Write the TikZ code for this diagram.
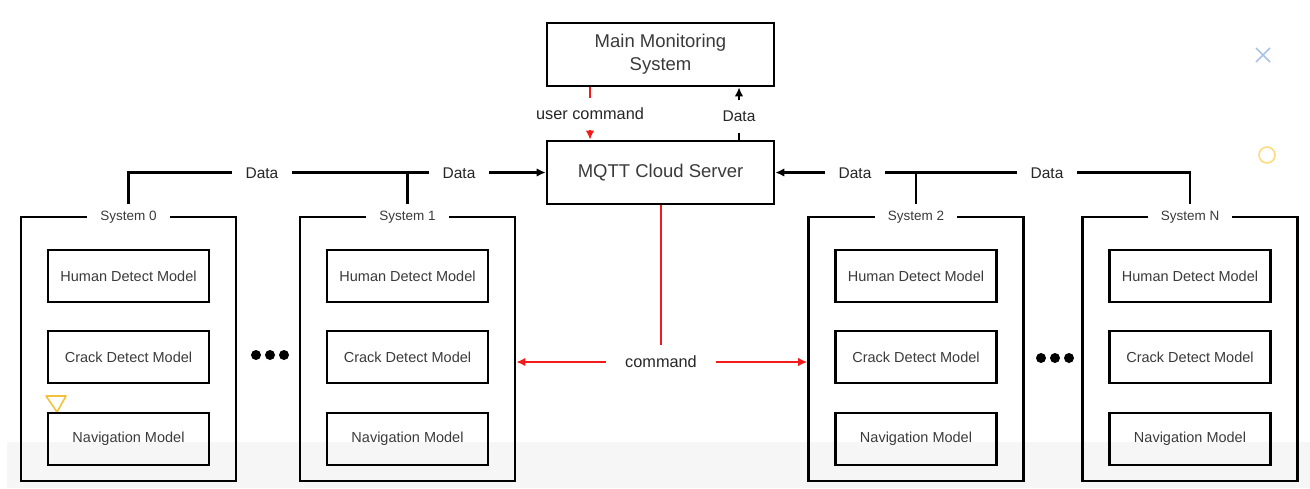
\documentclass[tikz,border=0pt]{standalone}
\usepackage{fontspec}
\setmainfont{Liberation Sans}
\usepackage{tikz}
\usetikzlibrary{arrows.meta}

\definecolor{txtgray}{HTML}{3A3A3A}
\definecolor{bandgray}{HTML}{F6F6F6}
\definecolor{decoblue}{HTML}{A9C2EA}
\definecolor{decoyellow}{HTML}{FCDC7E}
\definecolor{tripyellow}{HTML}{F3C13A}
\definecolor{cmdred}{HTML}{F21A1A}

\begin{document}
\begin{tikzpicture}[x=1pt,y=-1pt,
		frame/.style={draw,line width=2.6pt,minimum width=215pt,minimum height=264pt},
		syslab/.style={fill=white,inner xsep=13pt,inner ysep=7pt,text=txtgray,font=\fontsize{13.5}{16}\selectfont},
		model/.style={draw,line width=2.6pt,minimum width=161pt,minimum height=52pt,text=txtgray,font=\fontsize{14.5}{17}\selectfont},
		server/.style={draw,line width=2.6pt,minimum width=227pt,minimum height=63pt,align=center,text=txtgray,font=\fontsize{18.5}{23}\selectfont},
		datalab/.style={fill=white,inner xsep=14pt,text=black!85,font=\fontsize{15.5}{18}\selectfont},
		redlab/.style={text=black!85,font=\fontsize{16.3}{19}\selectfont},
		conn/.style={line width=2.4pt},
		redconn/.style={cmdred,line width=2.4pt},
		tip/.style={-{Latex[length=9pt,width=8.5pt]}}
	]
	\useasboundingbox (0,0) rectangle (1310,488);
	% background marks
	\fill[bandgray] (7,442) rectangle (1310,488);
	\draw[decoblue,line width=1.6pt] (1256,48) -- (1270,62) (1256,62) -- (1270,48);
	\draw[decoyellow,line width=1.6pt] (1267,155) circle (8);
	\draw[tripyellow,line width=1.6pt,line join=round] (46,396) -- (66,396) -- (57,412) -- cycle;

	\node[server](main) at (660.5,54.5) {Main Monitoring\\System};
	\node[server](mqtt) at (660.5,172.5) {MQTT Cloud Server};

	\foreach \cx/\n/\name in {128.5/0/System 0,407.5/1/System 1,916/2/System 2,1190/N/System N}
	{
		\node[frame](sys\n) at (\cx,349) {};
		\node[syslab](lab\n) at (\cx,217) {\name};
		\node[model](human\n) at (\cx,276) {Human Detect Model};
		\node[model](crack\n) at (\cx,357) {Crack Detect Model};
		\node[model](nav\n) at (\cx,439) {Navigation Model};
	}
	\foreach \d in {256,270,284} \fill (\d,355) circle (5);
	\foreach \d in {1041,1055,1069} \fill (\d,358) circle (5);

	% data bus
	\draw[conn,tip] (lab0.north) |- (mqtt.west);
	\draw[conn] (lab1.north) -- (lab1.north |- mqtt.west);
	\draw[conn,tip] (labN.north) |- (mqtt.east);
	\draw[conn] (lab2.north) -- (lab2.north |- mqtt.east);
	\node[datalab](data0) at (262,173) {Data};
	\node[datalab](data1) at (459,173) {Data};
	\node[datalab](data2) at (855,173) {Data};
	\node[datalab](data3) at (1047,173) {Data};

	\node[redlab,inner ysep=10pt](ucmd) at (590,114) {user command};
	\draw[redconn] (main.south -| ucmd) -- (ucmd.north);
	\draw[redconn,tip] (ucmd.south) -- (mqtt.north -| ucmd);

	\node[datalab,inner ysep=10.5pt](dataup) at (739,116.5) {Data};
	\draw[conn] (mqtt.north -| dataup) -- (dataup.south);
	\draw[conn,tip] (dataup.north) -- (main.south -| dataup);

	\node[redlab,inner xsep=19.5pt,inner ysep=11pt](cmd) at (661,362) {command};
	\draw[redconn] (mqtt.south -| cmd) -- (cmd.north);
	\draw[redconn,tip] (cmd.west) -- (sys1.east |- cmd.west);
	\draw[redconn,tip] (cmd.east) -- (sys2.west |- cmd.east);
\end{tikzpicture}
\end{document}
